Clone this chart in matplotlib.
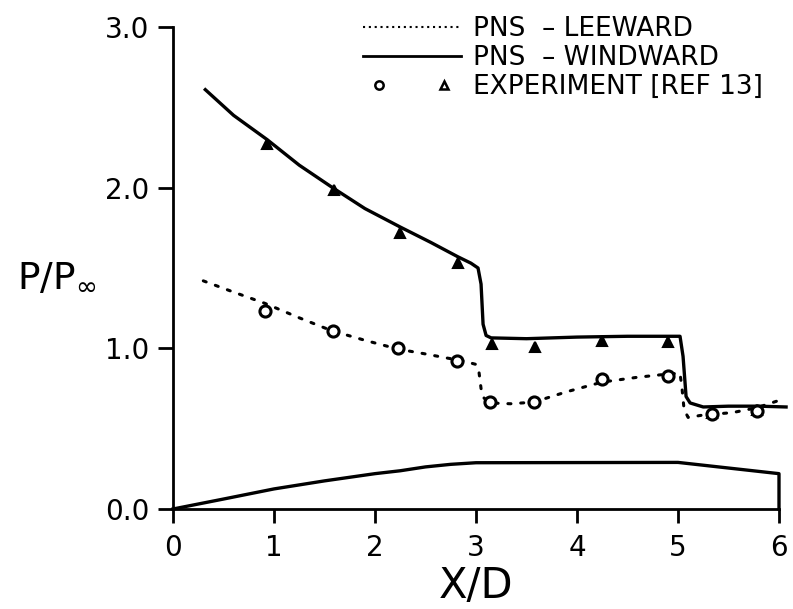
import matplotlib
matplotlib.use('Agg')
import matplotlib.pyplot as plt
from matplotlib.lines import Line2D
from matplotlib.legend_handler import HandlerTuple

plt.rcParams['font.family'] = ['DejaVu Sans']

# ---- data ----
windward_x = [0.32, 0.6, 0.93, 1.25, 1.58, 1.9, 2.25, 2.55, 2.82, 2.95, 3.02, 3.05,
              3.07, 3.10, 3.15, 3.5, 4.0, 4.5, 4.9, 5.02, 5.05, 5.08, 5.12, 5.25,
              5.5, 5.8, 6.07]
windward_y = [2.61, 2.45, 2.30, 2.14, 2.00, 1.87, 1.755, 1.66, 1.57, 1.53, 1.50, 1.40,
              1.15, 1.08, 1.065, 1.06, 1.07, 1.075, 1.075, 1.075, 0.95, 0.70, 0.66, 0.635,
              0.64, 0.64, 0.635]

leeward_x = [0.30, 0.6, 0.91, 1.25, 1.57, 1.9, 2.23, 2.5, 2.71, 2.85, 3.00, 3.03, 3.05,
             3.08, 3.14, 3.34, 3.57, 3.9, 4.25, 4.6, 4.9, 5.02, 5.04, 5.06, 5.1, 5.25,
             5.54, 5.78, 6.02]
leeward_y = [1.42, 1.35, 1.28, 1.19, 1.11, 1.05, 0.995, 0.965, 0.94, 0.925, 0.90, 0.85,
             0.75, 0.69, 0.66, 0.655, 0.665, 0.73, 0.79, 0.82, 0.84, 0.845, 0.75, 0.62,
             0.57, 0.585, 0.60, 0.63, 0.68]

exp_lee_x = [0.91, 1.58, 2.23, 2.81, 3.14, 3.57, 4.25, 4.9, 5.34, 5.78]
exp_lee_y = [1.23, 1.11, 1.00, 0.92, 0.665, 0.665, 0.81, 0.83, 0.59, 0.61]
exp_wind_x = [0.93, 1.59, 2.25, 2.82, 3.16, 3.58, 4.25, 4.9, 5.34, 5.78]
exp_wind_y = [2.27, 1.985, 1.72, 1.53, 1.03, 1.01, 1.045, 1.04, 0.60, 0.615]

body_x = [0, 0.5, 1.0, 1.5, 2.0, 2.25, 2.5, 2.75, 3.0, 5.0, 6.0, 6.0]
body_y = [0, 0.062, 0.125, 0.175, 0.22, 0.238, 0.262, 0.278, 0.288, 0.29, 0.22, 0.0]

x_ticks = [0, 1, 2, 3, 4, 5, 6]
y_ticks = [0.0, 1.0, 2.0, 3.0]
y_ticklabels = ['0.0', '1.0', '2.0', '3.0']

labels = ['PNS  \u2013 LEEWARD', 'PNS  \u2013 WINDWARD', 'EXPERIMENT [REF 13]']

# ---- figure ----
W, H = 793, 609
fig = plt.figure(figsize=(W / 100, H / 100), dpi=100)
ax = fig.add_axes([173 / W, 1 - 509 / H, (779 - 173) / W, (509 - 27) / H])

ax.plot(body_x, body_y, color='black', lw=2.4, clip_on=False, solid_joinstyle='round')
ax.plot(windward_x, windward_y, color='black', lw=2.4, clip_on=False, solid_joinstyle='round')
ax.plot(leeward_x, leeward_y, color='black', lw=2.2, linestyle=(0, (1, 3.2)),
        dash_capstyle='round', clip_on=False)
ax.plot(exp_wind_x, exp_wind_y, linestyle='none', marker='^', ms=7,
        mfc='black', mec='black', mew=1.5, clip_on=False)
ax.plot(exp_lee_x, exp_lee_y, linestyle='none', marker='o', ms=8,
        mfc='white', mec='black', mew=2.2, clip_on=False)

ax.set_xlim(0, 6)
ax.set_ylim(0, 3)
ax.set_xticks(x_ticks)
ax.set_yticks(y_ticks)
ax.set_yticklabels(y_ticklabels)
for s in ['top', 'right']:
    ax.spines[s].set_visible(False)
for s in ['left', 'bottom']:
    ax.spines[s].set_linewidth(2.0)
ax.tick_params(axis='x', direction='out', length=10, width=2, pad=8, labelsize=20)
ax.tick_params(axis='y', direction='out', length=11, width=2, pad=6, labelsize=20)

ax.set_xlabel('X/D', fontsize=30, labelpad=2)
fig.text(57 / W, 1 - 277 / H, r'P/P$_{\infty}$', fontsize=27, ha='center', va='center')

h1 = Line2D([], [], color='black', lw=1.5, linestyle=(0, (1, 1.8)))
h2 = Line2D([], [], color='black', lw=2.0)
h3a = Line2D([], [], linestyle='none', marker='o', ms=6, mfc='white', mec='black', mew=1.8)
h3b = Line2D([], [], linestyle='none', marker='^', ms=6, mfc='white', mec='black', mew=1.8)
leg = fig.legend([h1, h2, (h3a, h3b)], labels, loc='upper left',
                 bbox_to_anchor=(363 / W, 1 - 16 / H), frameon=False, fontsize=19,
                 handlelength=3.7, handletextpad=0.45, labelspacing=0.12,
                 borderaxespad=0, borderpad=0,
                 handler_map={tuple: HandlerTuple(ndivide=None, pad=1.2)})

fig.savefig('out.png', dpi=100)
